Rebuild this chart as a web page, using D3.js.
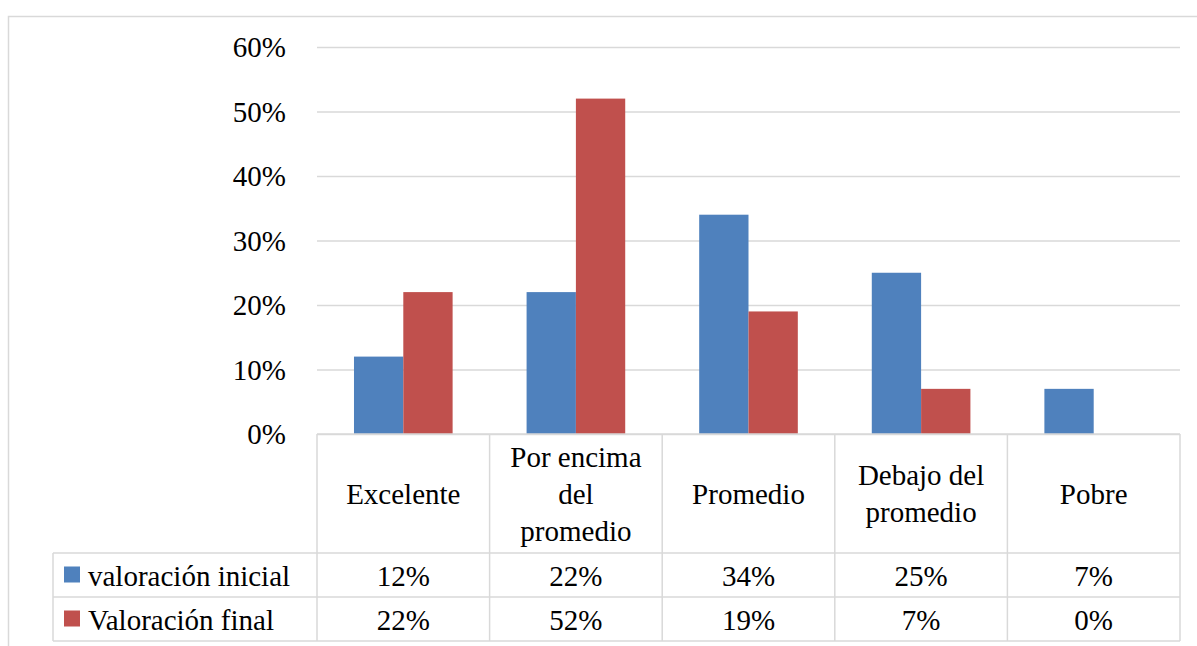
<!DOCTYPE html>
<html>
<head>
<meta charset="utf-8">
<script src="https://cdn.jsdelivr.net/npm/d3@7"></script>
<style>
  html, body { margin: 0; padding: 0; background: #fff; }
  svg { display: block; }
  text { font-family: "Liberation Serif", "Tinos", "Times New Roman", Times, "DejaVu Serif", serif; fill: #000; }
</style>
</head>
<body>
<svg id="chart" width="1197" height="646"></svg>
<script>
// Categories (wrapped header lines per cell) and series values
const categories = ["Excelente", "Por encima del promedio", "Promedio", "Debajo del promedio", "Pobre"];
const categoryLines = [["Excelente"], ["Por encima", "del", "promedio"], ["Promedio"], ["Debajo del", "promedio"], ["Pobre"]];
const seriesNames = ["valoración inicial", "Valoración final"];
const valoracionInicial = [0.12, 0.22, 0.34, 0.25, 0.07];
const valoracionFinal = [0.22, 0.52, 0.19, 0.07, 0.00];
const yTicks = [0, 0.1, 0.2, 0.3, 0.4, 0.5, 0.6];
const colors = ["#4F81BD", "#C0504D"];

const seriesValues = [valoracionInicial, valoracionFinal];

const svg = d3.select("#chart");
const gridColor = "#d9d9d9";
const fontSize = 29;
const fontStack = '"Liberation Serif", Tinos, "Times New Roman", Times, "DejaVu Serif", serif';

// Plot area
const plotLeft = 317, plotRight = 1180, plotTop = 47, plotBottom = 434;
const headerBottom = 553, rowH = 44, tableLeft = 53;

// Outer chart frame
svg.append("rect")
  .attr("x", 8.5).attr("y", 16.5)
  .attr("width", 1200).attr("height", 700)
  .attr("fill", "none").attr("stroke", gridColor).attr("stroke-width", 1.5);

const x = d3.scaleBand().domain(categories).range([plotLeft, plotRight]).padding(0);
const xSub = d3.scaleBand().domain(seriesNames).range([0, x.bandwidth()])
  .paddingInner(0).paddingOuter(0.75);
const y = d3.scaleLinear().domain([0, 0.6]).range([plotBottom, plotTop]);

// Gridlines + value axis labels
const yAxis = d3.axisLeft(y)
  .tickValues(yTicks)
  .tickFormat(d3.format(".0%"))
  .tickSize(-(plotRight - plotLeft))
  .tickPadding(31);

const gy = svg.append("g")
  .attr("transform", `translate(${plotLeft},0)`)
  .call(yAxis)
  .attr("font-family", fontStack)
  .attr("font-size", fontSize);
gy.select(".domain").remove();
gy.selectAll(".tick line").attr("stroke", gridColor).attr("stroke-width", 1.5);
gy.selectAll(".tick text")
  .style("font-family", fontStack)
  .attr("fill", "#000")
  .attr("dy", "0.34em");

// Bars
const groups = svg.append("g").selectAll("g")
  .data(seriesNames)
  .join("g")
  .attr("fill", (d, i) => colors[i]);

groups.selectAll("rect")
  .data((s, si) => categories.map((c, ci) => ({ c, s, v: seriesValues[si][ci] })))
  .join("rect")
  .attr("x", d => x(d.c) + xSub(d.s))
  .attr("y", d => y(d.v))
  .attr("width", xSub.bandwidth())
  .attr("height", d => y(0) - y(d.v));

// Data table lines
const tableBottom = headerBottom + rowH * seriesNames.length;
const lines = svg.append("g").attr("stroke", gridColor).attr("stroke-width", 1.5);
lines.append("line").attr("x1", plotLeft).attr("x2", plotRight).attr("y1", plotBottom).attr("y2", plotBottom);
seriesNames.concat(["end"]).forEach((s, i) => {
  const yy = headerBottom + rowH * i;
  lines.append("line").attr("x1", tableLeft).attr("x2", plotRight).attr("y1", yy).attr("y2", yy);
});
lines.append("line").attr("x1", tableLeft).attr("x2", tableLeft).attr("y1", headerBottom).attr("y2", tableBottom);
categories.forEach(c => {
  lines.append("line").attr("x1", x(c)).attr("x2", x(c)).attr("y1", plotBottom).attr("y2", tableBottom);
});
lines.append("line").attr("x1", plotRight).attr("x2", plotRight).attr("y1", plotBottom).attr("y2", tableBottom);

// Category header cells
const headerMid = (plotBottom + headerBottom) / 2;
const lineH = 37;
categories.forEach((c, ci) => {
  const ls = categoryLines[ci];
  const t = svg.append("text")
    .attr("text-anchor", "middle")
    .style("font-family", fontStack)
    .attr("font-size", fontSize);
  ls.forEach((l, li) => {
    t.append("tspan")
      .attr("x", x(c) + x.bandwidth() / 2)
      .attr("y", headerMid + 10 + (li - (ls.length - 1) / 2) * lineH)
      .text(l);
  });
});

// Data rows: legend key + values
const pct = d3.format(".0%");
seriesNames.forEach((s, si) => {
  const rowMid = headerBottom + rowH * si + rowH / 2;
  svg.append("rect")
    .attr("x", 64).attr("y", rowMid - 8.5)
    .attr("width", 16).attr("height", 16)
    .attr("fill", colors[si]);
  svg.append("text")
    .attr("x", 88).attr("y", rowMid + 10.5)
    .style("font-family", fontStack)
    .attr("font-size", fontSize)
    .text(s);
  categories.forEach((c, ci) => {
    svg.append("text")
      .attr("x", x(c) + x.bandwidth() / 2)
      .attr("y", rowMid + 10.5)
      .attr("text-anchor", "middle")
      .style("font-family", fontStack)
      .attr("font-size", fontSize)
      .text(pct(seriesValues[si][ci]));
  });
});
</script>
</body>
</html>
